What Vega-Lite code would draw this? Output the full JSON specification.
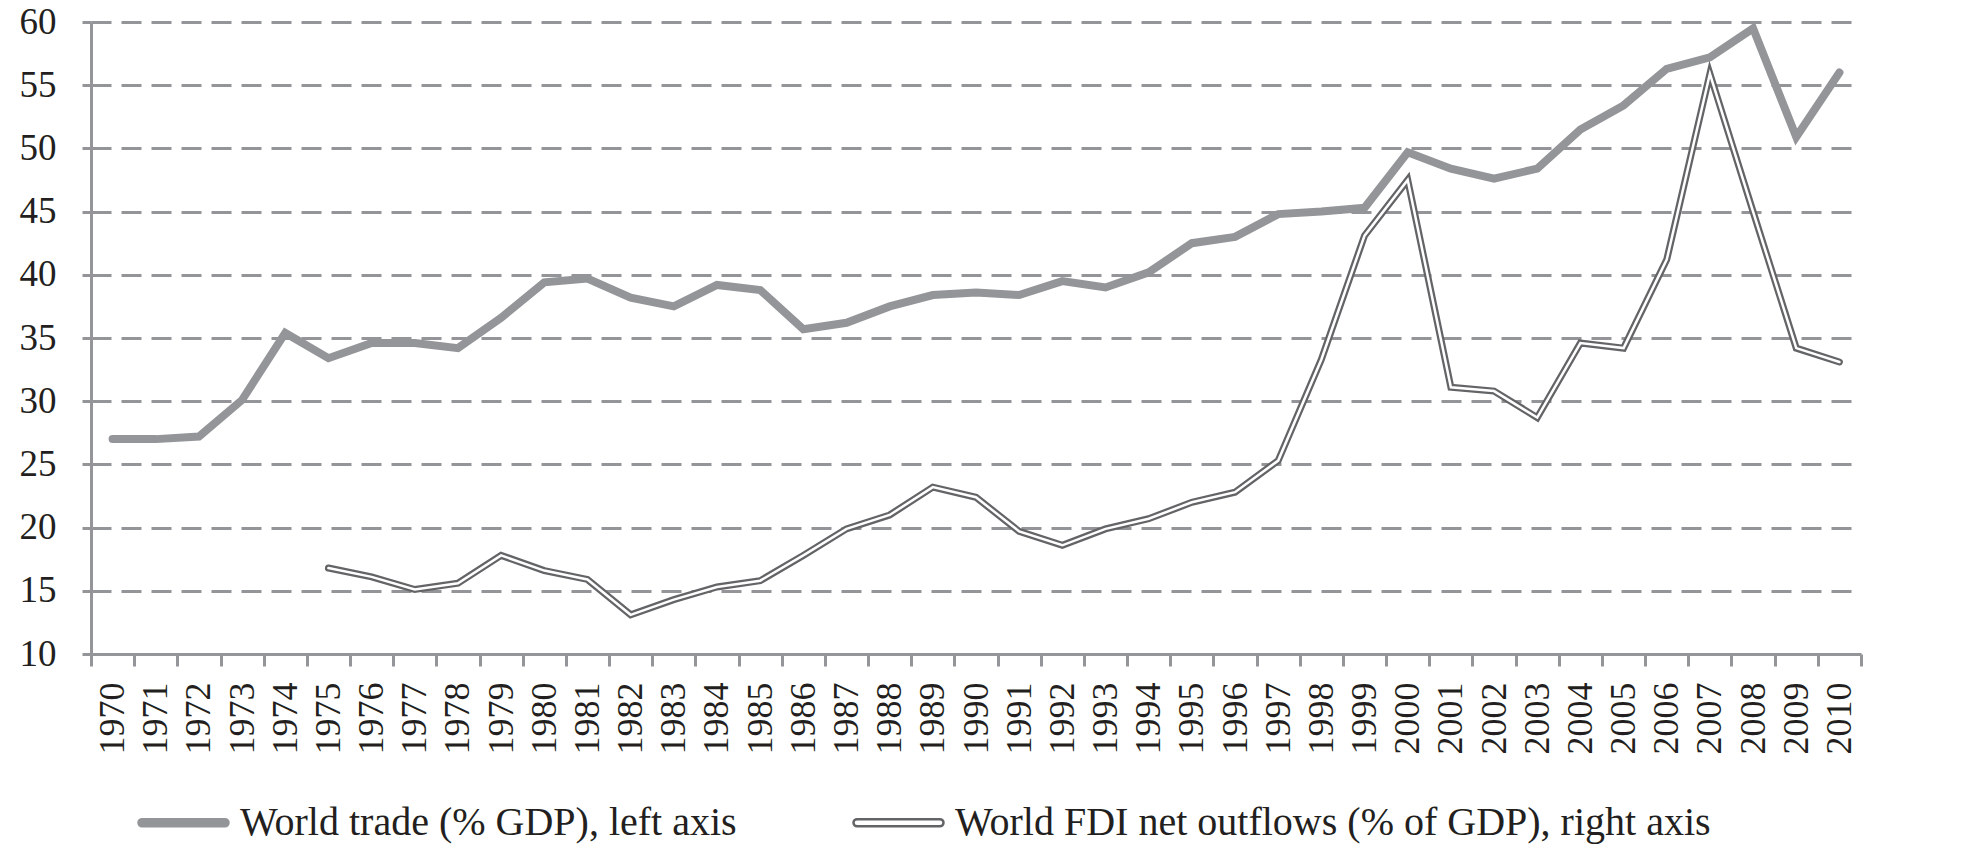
{
  "$schema": "https://vega.github.io/schema/vega-lite/v6.json",
  "width": 1770,
  "height": 632,
  "autosize": {"type": "none"},
  "padding": {"left": 91, "top": 22, "right": 100, "bottom": 191},
  "background": "white",
  "config": {
    "view": {"stroke": null},
    "font": "Liberation Serif",
    "axis": {"labelFont": "Liberation Serif", "labelColor": "#231f20", "labelFontSize": 36, "title": null},
    "legend": {"labelFont": "Liberation Serif"}
  },
  "data": {
    "values": [
      {"year": 1970, "trade": 27.0, "fdi": null},
      {"year": 1971, "trade": 27.0, "fdi": null},
      {"year": 1972, "trade": 27.2, "fdi": null},
      {"year": 1973, "trade": 30.1, "fdi": null},
      {"year": 1974, "trade": 35.4, "fdi": null},
      {"year": 1975, "trade": 33.4, "fdi": 0.68},
      {"year": 1976, "trade": 34.6, "fdi": 0.61},
      {"year": 1977, "trade": 34.6, "fdi": 0.51},
      {"year": 1978, "trade": 34.2, "fdi": 0.56},
      {"year": 1979, "trade": 36.6, "fdi": 0.78},
      {"year": 1980, "trade": 39.4, "fdi": 0.66},
      {"year": 1981, "trade": 39.7, "fdi": 0.59},
      {"year": 1982, "trade": 38.2, "fdi": 0.31},
      {"year": 1983, "trade": 37.5, "fdi": 0.43},
      {"year": 1984, "trade": 39.2, "fdi": 0.53},
      {"year": 1985, "trade": 38.8, "fdi": 0.58},
      {"year": 1986, "trade": 35.7, "fdi": 0.78},
      {"year": 1987, "trade": 36.2, "fdi": 0.99},
      {"year": 1988, "trade": 37.5, "fdi": 1.10},
      {"year": 1989, "trade": 38.4, "fdi": 1.32},
      {"year": 1990, "trade": 38.6, "fdi": 1.24},
      {"year": 1991, "trade": 38.4, "fdi": 0.97},
      {"year": 1992, "trade": 39.5, "fdi": 0.86},
      {"year": 1993, "trade": 39.0, "fdi": 0.99},
      {"year": 1994, "trade": 40.2, "fdi": 1.07},
      {"year": 1995, "trade": 42.5, "fdi": 1.20},
      {"year": 1996, "trade": 43.0, "fdi": 1.28},
      {"year": 1997, "trade": 44.8, "fdi": 1.53},
      {"year": 1998, "trade": 45.0, "fdi": 2.33},
      {"year": 1999, "trade": 45.3, "fdi": 3.31},
      {"year": 2000, "trade": 49.7, "fdi": 3.75},
      {"year": 2001, "trade": 48.4, "fdi": 2.11},
      {"year": 2002, "trade": 47.6, "fdi": 2.08},
      {"year": 2003, "trade": 48.4, "fdi": 1.87},
      {"year": 2004, "trade": 51.5, "fdi": 2.46},
      {"year": 2005, "trade": 53.4, "fdi": 2.42},
      {"year": 2006, "trade": 56.3, "fdi": 3.12},
      {"year": 2007, "trade": 57.2, "fdi": 4.59},
      {"year": 2008, "trade": 59.5, "fdi": 3.50},
      {"year": 2009, "trade": 50.9, "fdi": 2.42},
      {"year": 2010, "trade": 56.0, "fdi": 2.31}
    ]
  },
  "encoding": {
    "x": {
      "field": "year",
      "type": "ordinal",
      "scale": {"type": "band", "paddingInner": 0, "paddingOuter": 0},
      "axis": {
        "title": null,
        "labelAngle": -90,
        "labelFontSize": 36,
        "labelColor": "#231f20",
        "tickBand": "extent",
        "tickSize": 12,
        "tickWidth": 3,
        "tickColor": "#939598",
        "domainColor": "#939598",
        "domainWidth": 3,
        "labelPadding": 16,
        "grid": false
      }
    }
  },
  "layer": [
    {
      "mark": {"type": "line", "strokeWidth": 8, "strokeCap": "round"},
      "encoding": {
        "y": {
          "field": "trade",
          "type": "quantitative",
          "scale": {"domain": [10, 60], "nice": false, "zero": false},
          "axis": {
            "orient": "left",
            "values": [10, 15, 20, 25, 30, 35, 40, 45, 50, 55, 60],
            "grid": true,
            "gridDash": [20, 10],
            "gridColor": "#939598",
            "gridWidth": 3,
            "gridOpacity": 1,
            "tickSize": 9,
            "tickWidth": 3,
            "tickColor": "#939598",
            "domainColor": "#939598",
            "domainWidth": 3,
            "labelPadding": 26,
            "labelFontSize": 37,
            "labelColor": "#231f20"
          }
        },
        "color": {
          "datum": "World trade (% GDP), left axis",
          "scale": {
            "domain": ["World trade (% GDP), left axis", "World FDI net outflows (% of GDP), right axis"],
            "range": ["#939598", "#636466"]
          },
          "legend": {
            "orient": "none",
            "legendX": 46,
            "legendY": 754,
            "direction": "horizontal",
            "title": null,
            "symbolType": "M-0.92,-0.08L0.92,-0.08A0.08,0.08 0 0 1 0.92,0.08L-0.92,0.08A0.08,0.08 0 0 1 -0.92,-0.08Z",
            "symbolSize": 8100,
            "symbolStrokeWidth": 2.5,
            "labelFontSize": 40,
            "labelColor": "#231f20",
            "labelOffset": 10,
            "columnPadding": 111,
            "labelLimit": 1000,
            "padding": 0,
            "encode": {
              "symbols": {
                "update": {
                  "fill": {"signal": "datum.value === 'World trade (% GDP), left axis' ? '#939598' : '#ffffff'"},
                  "fillOpacity": {"value": 1}
                }
              }
            }
          }
        }
      }
    },
    {
      "layer": [
        {
          "mark": {"type": "line", "strokeWidth": 7, "strokeCap": "round"},
          "encoding": {
            "y": {
              "field": "fdi",
              "type": "quantitative",
              "scale": {"domain": [0, 5], "nice": false, "zero": false},
              "axis": {
                "orient": "right",
                "values": [0, 0.5, 1, 1.5, 2, 2.5, 3, 3.5, 4, 4.5, 5],
                "format": ".1f",
                "grid": false,
                "tickSize": 9,
                "tickWidth": 3,
                "tickColor": "#939598",
                "domainColor": "#939598",
                "domainWidth": 3,
                "labelPadding": 28,
                "labelFontSize": 37,
                "labelColor": "#231f20"
              }
            },
            "color": {"datum": "World FDI net outflows (% of GDP), right axis"}
          }
        },
        {
          "mark": {"type": "line", "strokeWidth": 2.5, "strokeCap": "round", "color": "#ffffff"},
          "encoding": {
            "y": {
              "field": "fdi",
              "type": "quantitative",
              "scale": {"domain": [0, 5], "nice": false, "zero": false},
              "axis": null
            }
          }
        }
      ]
    }
  ],
  "resolve": {"scale": {"y": "independent"}}
}
